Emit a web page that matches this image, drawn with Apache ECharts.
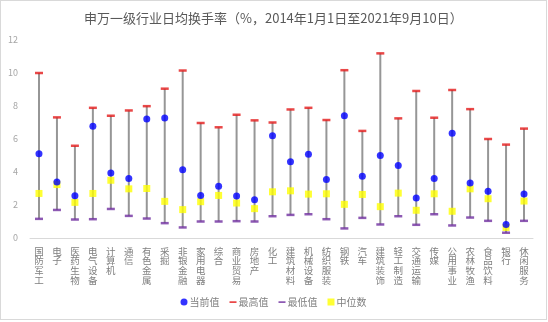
<!DOCTYPE html>
<html>
<head>
<meta charset="utf-8">
<script src="https://cdn.jsdelivr.net/npm/echarts@6/dist/echarts.min.js"></script>
<style>
html,body{margin:0;padding:0;background:#fff;}
#c{position:absolute;left:0;top:0;width:547px;height:320px;border:1px solid #d9d9d9;box-sizing:border-box;}
</style>
</head>
<body>
<div id="c"></div>
<script>
var categories = ['国防军工','电子','医药生物','电气设备','计算机','通信','有色金属','采掘','非银金融','家用电器','综合','商业贸易','房地产','化工','建筑材料','机械设备','纺织服装','钢铁','汽车','建筑装饰','轻工制造','交通运输','传媒','公用事业','农林牧渔','食品饮料','银行','休闲服务'];
var currentValues = [5.10,3.40,2.56,6.77,3.94,3.60,7.21,7.27,4.14,2.58,3.14,2.54,2.32,6.19,4.62,5.08,3.54,7.41,3.74,5.00,4.40,2.42,3.60,6.35,3.34,2.84,0.82,2.66];
var maxValues = [10.00,7.31,5.59,7.89,7.41,7.73,7.99,9.05,10.15,6.97,6.71,7.47,7.13,7.00,7.79,7.89,7.15,10.17,6.49,11.19,7.25,8.91,7.29,8.97,7.81,6.00,5.66,6.63];
var minValues = [1.16,1.70,1.12,1.14,1.76,1.34,1.18,0.90,0.64,1.00,1.00,1.02,1.00,1.32,1.40,1.44,1.14,0.58,1.22,0.82,1.32,0.80,1.44,0.76,1.24,1.04,0.32,1.04];
var medianValues = [2.70,3.24,2.16,2.70,3.50,2.98,3.00,2.22,1.72,2.20,2.58,2.12,1.78,2.80,2.86,2.66,2.68,2.04,2.64,1.90,2.72,1.68,2.68,1.62,2.98,2.38,0.64,2.24];
var yTicks = [0,2,4,6,8,10,12];

var chart = echarts.init(document.getElementById('c'), null, {renderer:'canvas'});
var rangeData = categories.map(function(c,i){return [i, minValues[i], maxValues[i]];});
var dashIcon = 'path://M0,0L0.01,0M0,4L10,4L10,6.5L0,6.5ZM10,10L9.99,10';
var font = 'Noto Sans CJK SC';
chart.setOption({
  animation:false,
  textStyle:{fontFamily:font},
  title:{
    text:'申万一级行业日均换手率（%，2014年1月1日至2021年9月10日）',
    left:78, top:6,
    textStyle:{fontSize:13, fontWeight:'normal', color:'#595959', fontFamily:font}
  },
  grid:{left:29, right:13, top:39, bottom:81},
  legend:{
    bottom:7, left:'center',
    itemWidth:7, itemHeight:7, itemGap:10,
    textStyle:{fontSize:10, color:'#7f7f7f', fontFamily:font, padding:[0,0,0,-3]},
    data:[
      {name:'当前值', icon:'circle'},
      {name:'最高值', icon:dashIcon},
      {name:'最低值', icon:dashIcon},
      {name:'中位数', icon:'rect'}
    ]
  },
  xAxis:{
    type:'category', data:categories,
    axisLine:{lineStyle:{color:'#d9d9d9'}},
    axisTick:{show:false},
    axisLabel:{
      interval:0, margin:8, fontSize:9.5, lineHeight:9.8, color:'#7f7f7f', verticalAlign:'top',
      formatter:function(v){return v.split('').join('\n');}
    }
  },
  yAxis:{
    type:'value', min:yTicks[0], max:yTicks[yTicks.length-1], interval:2,
    axisLine:{show:false}, axisTick:{show:false}, splitLine:{show:false},
    axisLabel:{fontSize:9, color:'#a6a6a6', margin:12}
  },
  series:[
    {
      type:'custom', name:'range', silent:true, z:1,
      renderItem:function(params, api){
        var x = api.value(0);
        var p1 = api.coord([x, api.value(1)]);
        var p2 = api.coord([x, api.value(2)]);
        return {type:'line', shape:{x1:p1[0], y1:p1[1], x2:p2[0], y2:p2[1]}, style:{stroke:'#969696', lineWidth:2}};
      },
      data:rangeData
    },
    {name:'最高值', type:'scatter', symbol:'rect', symbolSize:[8,2.5], itemStyle:{color:'#e41a1a'}, data:maxValues, z:3},
    {name:'最低值', type:'scatter', symbol:'rect', symbolSize:[8,2.5], itemStyle:{color:'#7030a0'}, data:minValues, z:3},
    {name:'中位数', type:'scatter', symbol:'rect', symbolSize:7, itemStyle:{color:'#ffff00'}, data:medianValues, z:4},
    {name:'当前值', type:'scatter', symbol:'circle', symbolSize:7, itemStyle:{color:'#0000ff'}, data:currentValues, z:5}
  ]
});
</script>
</body>
</html>
